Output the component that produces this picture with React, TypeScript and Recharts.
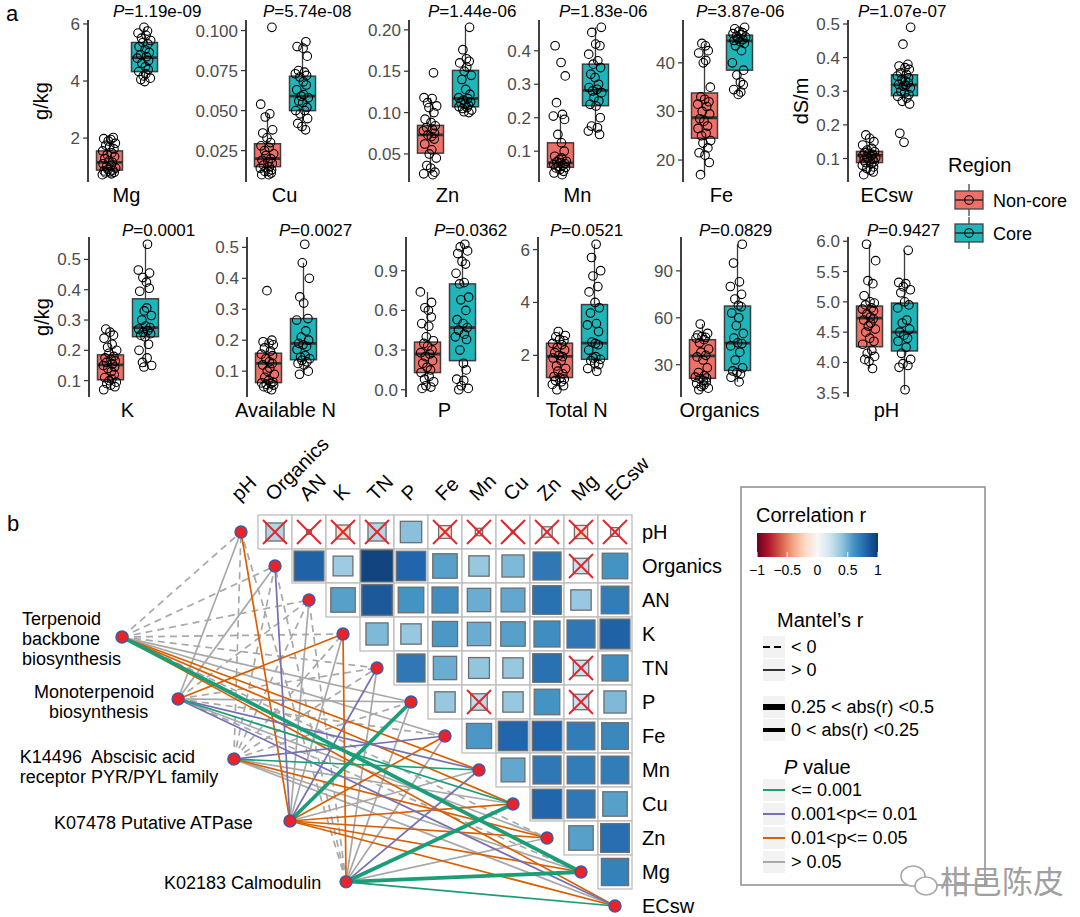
import React from 'react'
import { ComposedChart, ScatterChart, Bar, Scatter, XAxis, YAxis } from 'recharts'

const FONT = '"Liberation Sans", Arial, Helvetica, sans-serif'

// ---------- panel a: boxplots ----------
const REGIONS = ['Non-core', 'Core']
const PANEL_NAMES = ['Mg', 'Cu', 'Zn', 'Mn', 'Fe', 'ECsw', 'K', 'Available N', 'P', 'Total N', 'Organics', 'pH']
const PANEL_P = ['1.19e-09', '5.74e-08', '1.44e-06', '1.83e-06', '3.87e-06', '1.07e-07', '0.0001', '0.0027', '0.0362', '0.0521', '0.0829', '0.9427']
const PANEL_TICKS = [
  ['2', '4', '6'],
  ['0.025', '0.050', '0.075', '0.100'],
  ['0.05', '0.10', '0.15', '0.20'],
  ['0.1', '0.2', '0.3', '0.4'],
  ['20', '30', '40'],
  ['0.1', '0.2', '0.3', '0.4', '0.5'],
  ['0.1', '0.2', '0.3', '0.4', '0.5'],
  ['0.1', '0.2', '0.3', '0.4', '0.5'],
  ['0.0', '0.3', '0.6', '0.9'],
  ['2', '4', '6'],
  ['30', '60', '90'],
  ['3.5', '4.0', '4.5', '5.0', '5.5', '6.0'],
]
const UNIT_TITLES = [
  { panel: 0, text: 'g/kg' },
  { panel: 5, text: 'dS/m' },
  { panel: 6, text: 'g/kg' },
]

// [lower whisker, q1, median, q3, upper whisker]
const BOX_NONCORE = [
  [0.72, 0.88, 1.15, 1.55, 2.02],
  [0.01, 0.015, 0.02, 0.0293, 0.048],
  [0.025, 0.051, 0.073, 0.0845, 0.118],
  [0.03, 0.052, 0.065, 0.125, 0.21],
  [17, 24.5, 28.7, 33.8, 44],
  [0.052, 0.088, 0.109, 0.121, 0.17],
  [0.07, 0.103, 0.152, 0.185, 0.27],
  [0.04, 0.063, 0.125, 0.158, 0.2],
  [0.01, 0.13, 0.27, 0.36, 0.74],
  [0.7, 1.16, 1.96, 2.46, 2.9],
  [14, 21.3, 35.6, 46, 56],
  [3.9, 4.26, 4.73, 4.93, 5.95],
]
const BOX_CORE = [
  [3.98, 4.33, 4.82, 5.35, 5.88],
  [0.038, 0.05, 0.059, 0.0715, 0.093],
  [0.1, 0.107, 0.117, 0.151, 0.203],
  [0.15, 0.236, 0.282, 0.36, 0.47],
  [33.5, 38.5, 44.5, 45.7, 47.3],
  [0.262, 0.287, 0.319, 0.349, 0.38],
  [0.145, 0.245, 0.275, 0.37, 0.55],
  [0.09, 0.137, 0.19, 0.27, 0.45],
  [0, 0.22, 0.47, 0.8, 1.1],
  [1.4, 1.85, 2.46, 3.92, 6.2],
  [19, 26.3, 43.8, 67.5, 107],
  [3.55, 4.19, 4.5, 4.98, 5.85],
]

const mgNonCore = [2.02, 1.98, 1.95, 1.9, 1.82, 1.75, 1.7, 1.62, 1.55, 1.48, 1.42, 1.35, 1.28, 1.2, 1.15, 1.1, 1.05, 1.0, 0.95, 0.9, 0.88, 0.85, 0.82, 0.8, 0.78, 0.75, 0.72]
const mgCore = [5.88, 5.75, 5.68, 5.6, 5.5, 5.42, 5.35, 5.3, 5.2, 5.1, 5.0, 4.92, 4.85, 4.8, 4.72, 4.62, 4.5, 4.4, 4.33, 4.25, 4.18, 4.1, 4.05, 3.98]
const cuNonCore = [0.102, 0.054, 0.048, 0.046, 0.038, 0.036, 0.033, 0.03, 0.028, 0.027, 0.025, 0.023, 0.022, 0.02, 0.019, 0.018, 0.017, 0.016, 0.015, 0.014, 0.013, 0.012, 0.012, 0.011, 0.01, 0.01]
const cuCore = [0.093, 0.09, 0.089, 0.084, 0.075, 0.074, 0.073, 0.072, 0.071, 0.068, 0.066, 0.063, 0.06, 0.059, 0.058, 0.056, 0.055, 0.052, 0.05, 0.05, 0.048, 0.045, 0.042, 0.04, 0.038]
const znNonCore = [0.148, 0.118, 0.117, 0.112, 0.108, 0.106, 0.1, 0.092, 0.088, 0.084, 0.082, 0.08, 0.078, 0.075, 0.073, 0.071, 0.068, 0.062, 0.055, 0.05, 0.045, 0.036, 0.033, 0.028, 0.026, 0.025]
const znCore = [0.203, 0.176, 0.165, 0.162, 0.16, 0.155, 0.15, 0.145, 0.14, 0.128, 0.122, 0.118, 0.117, 0.115, 0.113, 0.112, 0.11, 0.109, 0.107, 0.106, 0.105, 0.103, 0.101, 0.1]
const mnNonCore = [0.415, 0.365, 0.325, 0.245, 0.21, 0.205, 0.195, 0.15, 0.125, 0.1, 0.085, 0.08, 0.075, 0.07, 0.068, 0.065, 0.063, 0.06, 0.058, 0.055, 0.052, 0.05, 0.045, 0.04, 0.035, 0.03]
const mnCore = [0.47, 0.455, 0.42, 0.415, 0.39, 0.37, 0.36, 0.35, 0.33, 0.32, 0.3, 0.29, 0.285, 0.28, 0.275, 0.26, 0.25, 0.24, 0.235, 0.2, 0.175, 0.17, 0.16, 0.15]
const feNonCore = [44, 43.5, 42.5, 42, 40.5, 40, 35, 33, 32.5, 32, 31.5, 31, 30, 29.5, 28.5, 28, 27, 26.5, 25.5, 25, 24, 23.5, 22.5, 21.5, 21, 19.5, 17]
const feCore = [47.3, 47, 46.5, 46.2, 46, 45.8, 45.5, 45.3, 45, 44.8, 44.6, 44.4, 44, 43.5, 42.5, 40, 38.5, 37.5, 36, 35.5, 34.5, 34, 33.5]
const ecNonCore = [0.17, 0.16, 0.15, 0.14, 0.13, 0.125, 0.12, 0.118, 0.115, 0.112, 0.11, 0.108, 0.105, 0.102, 0.1, 0.098, 0.095, 0.092, 0.09, 0.088, 0.085, 0.08, 0.075, 0.07, 0.065, 0.06, 0.052]
const ecCore = [0.49, 0.44, 0.38, 0.375, 0.37, 0.365, 0.355, 0.35, 0.345, 0.34, 0.335, 0.33, 0.325, 0.32, 0.318, 0.315, 0.31, 0.3, 0.295, 0.29, 0.285, 0.28, 0.27, 0.262, 0.175, 0.148]
const kNonCore = [0.27, 0.26, 0.25, 0.24, 0.22, 0.21, 0.2, 0.19, 0.18, 0.175, 0.17, 0.165, 0.16, 0.155, 0.15, 0.145, 0.14, 0.13, 0.12, 0.11, 0.105, 0.1, 0.095, 0.09, 0.085, 0.08, 0.07]
const kCore = [0.55, 0.465, 0.455, 0.44, 0.425, 0.405, 0.395, 0.34, 0.33, 0.315, 0.3, 0.28, 0.275, 0.27, 0.265, 0.26, 0.255, 0.25, 0.245, 0.22, 0.2, 0.175, 0.16, 0.15, 0.145]
const anNonCore = [0.36, 0.2, 0.195, 0.19, 0.185, 0.175, 0.165, 0.155, 0.15, 0.14, 0.13, 0.125, 0.12, 0.11, 0.1, 0.09, 0.08, 0.07, 0.065, 0.062, 0.06, 0.058, 0.055, 0.05, 0.045, 0.04]
const anCore = [0.51, 0.45, 0.4, 0.34, 0.32, 0.27, 0.265, 0.23, 0.21, 0.2, 0.19, 0.185, 0.18, 0.17, 0.15, 0.145, 0.14, 0.135, 0.13, 0.125, 0.12, 0.1, 0.09]
const pNonCore = [0.74, 0.66, 0.62, 0.6, 0.55, 0.5, 0.48, 0.4, 0.37, 0.35, 0.33, 0.3, 0.28, 0.27, 0.25, 0.22, 0.2, 0.17, 0.15, 0.13, 0.1, 0.08, 0.06, 0.03, 0.02, 0.01]
const pCore = [1.1, 1.08, 1.05, 1.03, 0.97, 0.95, 0.88, 0.81, 0.8, 0.7, 0.68, 0.6, 0.53, 0.5, 0.47, 0.45, 0.42, 0.4, 0.38, 0.3, 0.2, 0.15, 0.08, 0.07, 0.03, 0.01, 0]
const tnNonCore = [2.9, 2.75, 2.7, 2.6, 2.55, 2.45, 2.4, 2.3, 2.2, 2.1, 2.0, 1.95, 1.9, 1.8, 1.6, 1.5, 1.4, 1.3, 1.2, 1.15, 1.1, 1.05, 1.0, 0.9, 0.85, 0.7]
const tnCore = [6.2, 5.7, 5.2, 5.0, 4.6, 4.4, 4.0, 3.8, 3.6, 3.2, 3.15, 2.9, 2.5, 2.45, 2.4, 2.2, 1.95, 1.9, 1.85, 1.8, 1.7, 1.65, 1.5, 1.4]
const orgNonCore = [56, 50, 49, 48, 47.5, 47, 46, 44, 40, 38, 36, 35, 33, 28, 25, 23, 22, 21.5, 21, 20, 19, 18, 17, 16, 15, 14]
const orgCore = [107, 95, 83, 80, 75, 72, 68, 67, 63, 60, 55, 50, 47, 44, 43.5, 42, 38, 33, 28, 26, 25, 24, 22, 19]
const phNonCore = [5.95, 5.68, 5.35, 5.3, 5.1, 5.0, 4.98, 4.95, 4.9, 4.88, 4.85, 4.8, 4.75, 4.72, 4.7, 4.65, 4.6, 4.55, 4.5, 4.4, 4.35, 4.3, 4.2, 4.15, 4.1, 4.05, 4.02, 3.9]
const phCore = [5.85, 5.32, 5.3, 5.25, 5.2, 5.15, 5.0, 4.95, 4.9, 4.7, 4.65, 4.55, 4.5, 4.45, 4.4, 4.35, 4.25, 4.15, 4.05, 3.98, 3.95, 3.92, 3.55]

const POINTS_NONCORE = [mgNonCore, cuNonCore, znNonCore, mnNonCore, feNonCore, ecNonCore, kNonCore, anNonCore, pNonCore, tnNonCore, orgNonCore, phNonCore]
const POINTS_CORE = [mgCore, cuCore, znCore, mnCore, feCore, ecCore, kCore, anCore, pCore, tnCore, orgCore, phCore]

// ---------- panel b: correlation triangle + Mantel links ----------
const ENV_LABELS = ['pH', 'Organics', 'AN', 'K', 'TN', 'P', 'Fe', 'Mn', 'Cu', 'Zn', 'Mg', 'ECsw']

const heatPH = [0.3, 0.02, -0.18, 0.3, 0.42, -0.15, 0.05, 0.01, 0.1, -0.16, 0.07]
const heatOrganics = [0.82, 0.36, 0.95, 0.8, 0.55, 0.38, 0.45, 0.72, 0.22, 0.6]
const heatAN = [0.55, 0.86, 0.6, 0.62, 0.5, 0.52, 0.75, 0.38, 0.7]
const heatK = [0.45, 0.38, 0.58, 0.5, 0.55, 0.62, 0.72, 0.82]
const heatTN = [0.72, 0.5, 0.4, 0.38, 0.75, 0.22, 0.62]
const heatP = [0.38, 0.25, 0.38, 0.6, 0.22, 0.45]
const heatFe = [0.58, 0.8, 0.8, 0.7, 0.65]
const heatMn = [0.52, 0.72, 0.7, 0.7]
const heatCu = [0.8, 0.72, 0.55]
const heatZn = [0.55, 0.76]
const heatMg = [0.68]
const HEAT_ROWS = [heatPH, heatOrganics, heatAN, heatK, heatTN, heatP, heatFe, heatMn, heatCu, heatZn, heatMg]

// 1 = not significant (crossed out)
const crossPH = [1, 1, 1, 1, 0, 1, 1, 1, 1, 1, 1]
const crossOrganics = [0, 0, 0, 0, 0, 0, 0, 0, 1, 0]
const crossTN = [0, 0, 0, 0, 0, 1, 0]
const crossP = [0, 1, 0, 0, 1, 0]
const HEAT_CROSS = [crossPH, crossOrganics, [], [], crossTN, crossP, [], [], [], [], []]

const GENES = [
  ['Terpenoid', 'backbone', 'biosynthesis'],
  ['Monoterpenoid', 'biosynthesis'],
  ['K14496  Abscisic acid', 'receptor PYR/PYL family'],
  ['K07478 Putative ATPase'],
  ['K02183 Calmodulin'],
]
// Mantel r and p of each gene against pH ... ECsw
const mantelRTerpenoid = [-0.08, -0.06, -0.07, -0.05, -0.06, 0.06, 0.05, 0.12, 0.13, -0.05, 0.31, 0.14]
const mantelPTerpenoid = [0.85, 0.78, 0.8, 0.7, 0.75, 0.32, 0.4, 0.03, 0.02, 0.6, 0.0005, 0.03]
const mantelRMonoterpenoid = [0.06, 0.07, -0.05, 0.14, -0.06, 0.05, -0.04, 0.16, 0.17, 0.06, -0.05, 0.17]
const mantelPMonoterpenoid = [0.3, 0.25, 0.7, 0.02, 0.65, 0.35, 0.6, 0.005, 0.0009, 0.3, 0.6, 0.006]
const mantelRK14496 = [-0.07, -0.06, -0.05, -0.06, -0.05, -0.04, 0.15, 0.17, 0.06, 0.13, 0.06, 0.05]
const mantelPK14496 = [0.8, 0.75, 0.7, 0.78, 0.7, 0.6, 0.004, 0.0008, 0.3, 0.03, 0.3, 0.35]
const mantelRK07478 = [0.12, 0.14, 0.06, 0.05, 0.15, 0.33, 0.13, 0.05, 0.12, 0.13, 0.14, 0.12]
const mantelPK07478 = [0.03, 0.006, 0.3, 0.35, 0.007, 0.0004, 0.02, 0.3, 0.03, 0.02, 0.025, 0.04]
const mantelRK02183 = [-0.05, -0.06, -0.04, 0.13, 0.05, 0.06, 0.05, 0.16, 0.34, 0.06, 0.36, 0.2]
const mantelPK02183 = [0.7, 0.72, 0.65, 0.02, 0.35, 0.3, 0.4, 0.004, 0.0003, 0.3, 0.0002, 0.0007]
const MANTEL_R = [mantelRTerpenoid, mantelRMonoterpenoid, mantelRK14496, mantelRK07478, mantelRK02183]
const MANTEL_P = [mantelPTerpenoid, mantelPMonoterpenoid, mantelPK14496, mantelPK07478, mantelPK02183]

const CBAR_TICKS = ['\u22121', '\u22120.5', '0', '0.5', '1']
const P_CLASSES = ['<= 0.001', '0.001<p<= 0.01', '0.01<p<= 0.05', '> 0.05']

// ---------- layout & style ----------
const REGION_COLORS = ['#EF7068', '#20B5B9']
const P_COLORS = ['#1B9E77', '#7570B3', '#D95F02', '#A8A8A8']
const RDBU = ['#67001F', '#B2182B', '#D6604D', '#F4A582', '#FDDBC7', '#F7F7F7', '#D1E5F0', '#92C5DE', '#4393C3', '#2166AC', '#0D3A70']
const JITTER = [0.12, -0.15, 0.05, -0.02, 0.18, -0.09, 0.02, 0.14, -0.18, 0.08, -0.05, 0.16, -0.12, 0.0, 0.1, -0.17, 0.06, -0.07, 0.19, -0.03, 0.11, -0.14, 0.03, 0.15, -0.1, 0.07, -0.19, 0.13, -0.06, 0.04]
const AXIS_X = [88, 246, 409, 539, 683, 848, 89, 247, 406, 538, 681, 848]
const P_LABEL_X = [113, 263, 428, 559, 696, 858, 122, 279, 434, 550, 699, 867]
const P_LABEL_Y = [17, 236]
const ROW_TOP = [20, 237]
const ROW_HEIGHT = [162, 160]
const Y_AXIS_W = 70
const PLOT_W = 77
const RIGHT_PAD = 40

const CELL = 34
const NET_X = [-8.088, 10.735]
const NET_Y = [-0.794, 11.324]
const GENE_POS = [[-4.5, 3.09], [-2.85, 4.91], [-1.21, 6.68], [0.44, 8.5], [2.09, 10.29]]
const GENE_FONT = 18
const GENE_LABEL_OFFSET = [
  [[-100, -12], [-100, 8], [-100, 28]],
  [[-144, -1], [-129, 19]],
  [[-214, 4], [-214, 24]],
  [[-236, 8]],
  [[-182, 7]],
]

function hexToRgb(h: string) {
  return [1, 3, 5].map((i) => parseInt(h.slice(i, i + 2), 16))
}

function rdbu(v: number) {
  const t = ((Math.max(-1, Math.min(1, v)) + 1) / 2) * (RDBU.length - 1)
  const i = Math.min(RDBU.length - 2, Math.floor(t))
  const f = t - i
  const a = hexToRgb(RDBU[i])
  const b = hexToRgb(RDBU[i + 1])
  const c = a.map((x, k) => Math.round(x + (b[k] - x) * f))
  return `rgb(${c[0]},${c[1]},${c[2]})`
}

function pClass(p: number) {
  if (p <= 0.001) return 0
  if (p <= 0.01) return 1
  if (p <= 0.05) return 2
  return 3
}

function BoxShape(props: any) {
  const { x, y, width, height, payload } = props
  const [lo, q1, med, q3, hi] = payload.stats
  const top = Math.min(y, y + height)
  const h = Math.abs(height)
  const py = (v: number) => top + (h * (q3 - v)) / (q3 - q1)
  const cx = x + width / 2
  return (
    <g>
      <line x1={cx} x2={cx} y1={py(hi)} y2={top} stroke="#3d3d3d" strokeWidth={1.3} />
      <line x1={cx} x2={cx} y1={top + h} y2={py(lo)} stroke="#3d3d3d" strokeWidth={1.3} />
      <rect x={x} y={top} width={width} height={h} fill={payload.fill} stroke="#3d3d3d" strokeWidth={1.5} />
      <line x1={x} x2={x + width} y1={py(med)} y2={py(med)} stroke="#333" strokeWidth={2.8} />
    </g>
  )
}

function OpenDot(props: any) {
  const { cx, cy } = props
  return <circle cx={cx} cy={cy} r={4.3} fill="none" stroke="#000" strokeWidth={1.1} />
}

function BoxPanel({ i }: { i: number }) {
  const row = i < 6 ? 0 : 1
  const nc = BOX_NONCORE[i]
  const co = BOX_CORE[i]
  const boxes = [
    { region: REGIONS[0], box: [nc[1], nc[3]], stats: nc, fill: REGION_COLORS[0] },
    { region: REGIONS[1], box: [co[1], co[3]], stats: co, fill: REGION_COLORS[1] },
  ]
  const pts = [
    ...POINTS_NONCORE[i].map((v, k) => ({ x: 1 + JITTER[(k + i * 7) % JITTER.length], y: v })),
    ...POINTS_CORE[i].map((v, k) => ({ x: 2 + JITTER[(k + i * 7 + 13) % JITTER.length], y: v })),
  ]
  const vals = [...POINTS_NONCORE[i], ...POINTS_CORE[i], ...nc, ...co]
  const lo = Math.min(...vals)
  const hi = Math.max(...vals)
  const pad = (hi - lo) * 0.05
  const labels = PANEL_TICKS[i]
  const h = ROW_HEIGHT[row]
  return (
    <div style={{ position: 'absolute', left: AXIS_X[i] - Y_AXIS_W, top: ROW_TOP[row] - 10 }}>
      <ComposedChart
        width={Y_AXIS_W + PLOT_W + RIGHT_PAD}
        height={h + 40}
        data={boxes}
        margin={{ top: 10, right: RIGHT_PAD, bottom: 0, left: 0 }}
      >
        <XAxis
          xAxisId="num"
          type="number"
          dataKey="x"
          domain={[0.4, 2.6]}
          allowDataOverflow
          ticks={[1.5]}
          tickFormatter={() => PANEL_NAMES[i]}
          axisLine={false}
          tickLine={false}
          tickSize={0}
          tickMargin={6}
          height={30}
          tick={{ fontSize: 20, fill: '#000', fontFamily: FONT }}
        />
        <XAxis xAxisId="cat" type="category" dataKey="region" hide height={0} padding={{ left: 3.5, right: 3.5 }} />
        <YAxis
          type="number"
          domain={[lo - pad, hi + pad]}
          allowDataOverflow
          ticks={labels.map(Number)}
          interval={0}
          tickFormatter={(v: number) => labels.find((l) => Number(l) === v) ?? String(v)}
          width={Y_AXIS_W}
          axisLine={{ stroke: '#000', strokeWidth: 1.5 }}
          tickLine={{ stroke: '#333', strokeWidth: 1.2 }}
          tickSize={5}
          tickMargin={3}
          tick={{ fontSize: 17, fill: '#4D4D4D', fontFamily: FONT }}
        />
        <Bar xAxisId="cat" dataKey="box" barSize={26} shape={BoxShape} isAnimationActive={false} />
        <Scatter xAxisId="num" data={pts} dataKey="y" shape={OpenDot} isAnimationActive={false} />
      </ComposedChart>
    </div>
  )
}

function CellShape(props: any) {
  const { cx, cy, payload } = props
  const s = CELL
  const side = s * 0.97 * Math.sqrt(Math.abs(payload.r))
  const d = s / 2 - 5
  return (
    <g>
      <rect x={cx - s / 2} y={cy - s / 2} width={s} height={s} fill="#fff" stroke="#BDBDBD" strokeWidth={1.3} />
      <rect x={cx - side / 2} y={cy - side / 2} width={side} height={side} fill={rdbu(payload.r)} stroke="#6E6E6E" strokeWidth={1.3} />
      {payload.cross ? (
        <g stroke="#E3262B" strokeWidth={2}>
          <line x1={cx - d} y1={cy - d} x2={cx + d} y2={cy + d} />
          <line x1={cx - d} y1={cy + d} x2={cx + d} y2={cy - d} />
        </g>
      ) : null}
    </g>
  )
}

function NoDot() {
  return <g />
}

function EnvNode(props: any) {
  const { cx, cy } = props
  return <circle cx={cx} cy={cy} r={6} fill="#E8232A" stroke="#3A5BA8" strokeWidth={1.4} />
}

function GeneNode(props: any) {
  const { cx, cy, payload } = props
  const g = payload.g
  const offs = GENE_LABEL_OFFSET[g]
  return (
    <g>
      <circle cx={cx} cy={cy} r={6} fill="#E8232A" stroke="#3A5BA8" strokeWidth={1.4} />
      {GENES[g].map((line, k) => (
        <text
          key={k}
          x={cx + offs[k][0]}
          y={cy + offs[k][1]}
          fontSize={GENE_FONT}
          fontFamily={FONT}
          fill="#000"
          style={{ whiteSpace: 'pre' }}
        >
          {line}
        </text>
      ))}
    </g>
  )
}

function ColTick(props: any) {
  const { x, y, payload } = props
  const idx = Math.round(payload.value + 1.1)
  const tx = x + 2
  return (
    <text x={tx} y={y} transform={`rotate(-45 ${tx} ${y})`} textAnchor="start" fontSize={20} fontFamily={FONT} fill="#000">
      {ENV_LABELS[idx]}
    </text>
  )
}

function Network() {
  const cells: any[] = []
  HEAT_ROWS.forEach((vals, r) =>
    vals.forEach((v, k) => cells.push({ x: r + k, y: r, r: v, cross: HEAT_CROSS[r][k] === 1 })),
  )
  const envNodes = ENV_LABELS.map((_, k) => ({ x: k - 1, y: k }))
  const geneNodes = GENES.map((_, g) => ({ x: GENE_POS[g][0], y: GENE_POS[g][1], g }))
  const edges: any[] = []
  MANTEL_R.forEach((rs, g) =>
    rs.forEach((r, e) => {
      const cls = pClass(MANTEL_P[g][e])
      edges.push({
        key: `${g}-${e}`,
        cls,
        color: P_COLORS[cls],
        width: Math.abs(r) >= 0.25 ? 3.8 : 1.7,
        dash: r < 0 ? '7 5' : undefined,
        pts: [
          { x: GENE_POS[g][0], y: GENE_POS[g][1] },
          { x: e - 1, y: e },
        ],
      })
    }),
  )
  edges.sort((a, b) => b.cls - a.cls)
  const colTicks = ENV_LABELS.map((_, k) => k - 1.1)
  const rowTicks = ENV_LABELS.map((_, k) => k)
  return (
    <div style={{ position: 'absolute', left: 0, top: 430 }}>
      <ScatterChart width={740} height={487} margin={{ top: 0, right: 0, bottom: 0, left: 0 }}>
        <XAxis
          type="number"
          dataKey="x"
          orientation="top"
          domain={NET_X}
          allowDataOverflow
          ticks={colTicks}
          interval={0}
          height={75}
          axisLine={false}
          tickLine={false}
          tickSize={0}
          tickMargin={3}
          tick={ColTick}
        />
        <YAxis
          type="number"
          dataKey="y"
          orientation="right"
          reversed
          domain={NET_Y}
          allowDataOverflow
          ticks={rowTicks}
          interval={0}
          width={100}
          axisLine={false}
          tickLine={false}
          tickSize={0}
          tickMargin={2}
          tickFormatter={(v: number) => ENV_LABELS[v]}
          tick={{ fontSize: 20, fill: '#000', fontFamily: FONT }}
        />
        <Scatter data={cells} shape={CellShape} isAnimationActive={false} />
        {edges.map((e) => (
          <Scatter
            key={e.key}
            data={e.pts}
            fill={e.color}
            stroke={e.color}
            line={{ stroke: e.color, strokeWidth: e.width, strokeDasharray: e.dash }}
            shape={NoDot}
            isAnimationActive={false}
          />
        ))}
        <Scatter data={envNodes} shape={EnvNode} isAnimationActive={false} />
        <Scatter data={geneNodes} shape={GeneNode} isAnimationActive={false} />
      </ScatterChart>
    </div>
  )
}

function Overlay() {
  const keyBg = (y: number) => <rect x={763} y={y - 11} width={22} height={22} fill="#F2F2F2" />
  return (
    <svg
      width={1080}
      height={917}
      style={{ position: 'absolute', left: 0, top: 0, pointerEvents: 'none' }}
      fontFamily={FONT}
    >
      <defs>
        <linearGradient id="rdbu" x1="0" x2="1" y1="0" y2="0">
          {RDBU.map((c, k) => (
            <stop key={k} offset={k / (RDBU.length - 1)} stopColor={c} />
          ))}
        </linearGradient>
      </defs>
      <text x={6} y={21} fontSize={22}>a</text>
      <text x={7} y={531} fontSize={22}>b</text>

      {PANEL_P.map((p, i) => (
        <text key={i} x={P_LABEL_X[i]} y={P_LABEL_Y[i < 6 ? 0 : 1]} fontSize={17}>
          <tspan fontStyle="italic">P</tspan>={p}
        </text>
      ))}
      {UNIT_TITLES.map((u, k) => {
        const row = u.panel < 6 ? 0 : 1
        const x = AXIS_X[u.panel] - 40
        const y = ROW_TOP[row] + ROW_HEIGHT[row] / 2
        return (
          <text key={k} x={x} y={y} fontSize={20} textAnchor="middle" transform={`rotate(-90 ${x} ${y})`}>
            {u.text}
          </text>
        )
      })}

      {/* Region legend */}
      <text x={948} y={172} fontSize={20}>Region</text>
      {REGIONS.map((name, k) => {
        const cy = 200 + k * 33
        return (
          <g key={name}>
            <line x1={969} x2={969} y1={cy - 16} y2={cy + 16} stroke="#444" strokeWidth={1.3} />
            <rect x={955} y={cy - 9} width={28} height={18} fill={REGION_COLORS[k]} stroke="#444" strokeWidth={1.3} />
            <line x1={955} x2={983} y1={cy} y2={cy} stroke="#333" strokeWidth={1.6} />
            <circle cx={969} cy={cy} r={4.3} fill="none" stroke="#000" strokeWidth={1.1} />
            <text x={993} y={cy + 7} fontSize={18}>{name}</text>
          </g>
        )
      })}

      {/* b legend */}
      <rect x={741} y={487} width={244} height={398} fill="none" stroke="#8C8C8C" strokeWidth={1.5} />
      <text x={756} y={522} fontSize={20}>Correlation r</text>
      <rect x={757} y={533} width={121} height={24} fill="url(#rdbu)" />
      {CBAR_TICKS.map((t, k) => {
        const x = 757 + (k * 121) / 4
        return (
          <g key={t}>
            <line x1={x} x2={x} y1={552} y2={557} stroke="#fff" strokeWidth={1} />
            <text x={x} y={575} fontSize={14} textAnchor="middle">{t}</text>
          </g>
        )
      })}
      <text x={777} y={627} fontSize={20}>Mantel’s r</text>
      {keyBg(647)}
      <line x1={763} x2={785} y1={647} y2={647} stroke="#000" strokeWidth={2.2} strokeDasharray="7 4" />
      <text x={791} y={653} fontSize={18}>{'< 0'}</text>
      {keyBg(670)}
      <line x1={763} x2={785} y1={670} y2={670} stroke="#000" strokeWidth={1.6} />
      <text x={791} y={676} fontSize={18}>{'> 0'}</text>
      {keyBg(707)}
      <line x1={763} x2={785} y1={707} y2={707} stroke="#000" strokeWidth={6} />
      <text x={791} y={713} fontSize={18}>{'0.25 < abs(r) <0.5'}</text>
      {keyBg(730)}
      <line x1={763} x2={785} y1={730} y2={730} stroke="#000" strokeWidth={4} />
      <text x={791} y={736} fontSize={18}>{'0 < abs(r) <0.25'}</text>
      <text x={784} y={774} fontSize={20}>
        <tspan fontStyle="italic">P</tspan> value
      </text>
      {P_CLASSES.map((c, k) => {
        const y = 790 + k * 24
        return (
          <g key={c}>
            {keyBg(y)}
            <line x1={763} x2={785} y1={y} y2={y} stroke={P_COLORS[k]} strokeWidth={2} />
            <text x={791} y={y + 6} fontSize={18}>{c}</text>
          </g>
        )
      })}

      {/* watermark */}
      <g stroke="#A8A8A8" strokeWidth={1.6} fill="#fff">
        <ellipse cx={913} cy={876} rx={12} ry={10} />
        <ellipse cx={926} cy={886} rx={11} ry={9} />
      </g>
      <text x={940} y={893} fontSize={31} fill="#A0A0A0" fontFamily='"Noto Sans CJK SC", sans-serif'>柑邑陈皮</text>
    </svg>
  )
}

export default function App() {
  return (
    <div style={{ position: 'absolute', left: 0, top: 0, width: 1080, height: 917, background: '#fff', fontFamily: FONT }}>
      {PANEL_NAMES.map((_, i) => (
        <BoxPanel key={i} i={i} />
      ))}
      <Network />
      <Overlay />
    </div>
  )
}
